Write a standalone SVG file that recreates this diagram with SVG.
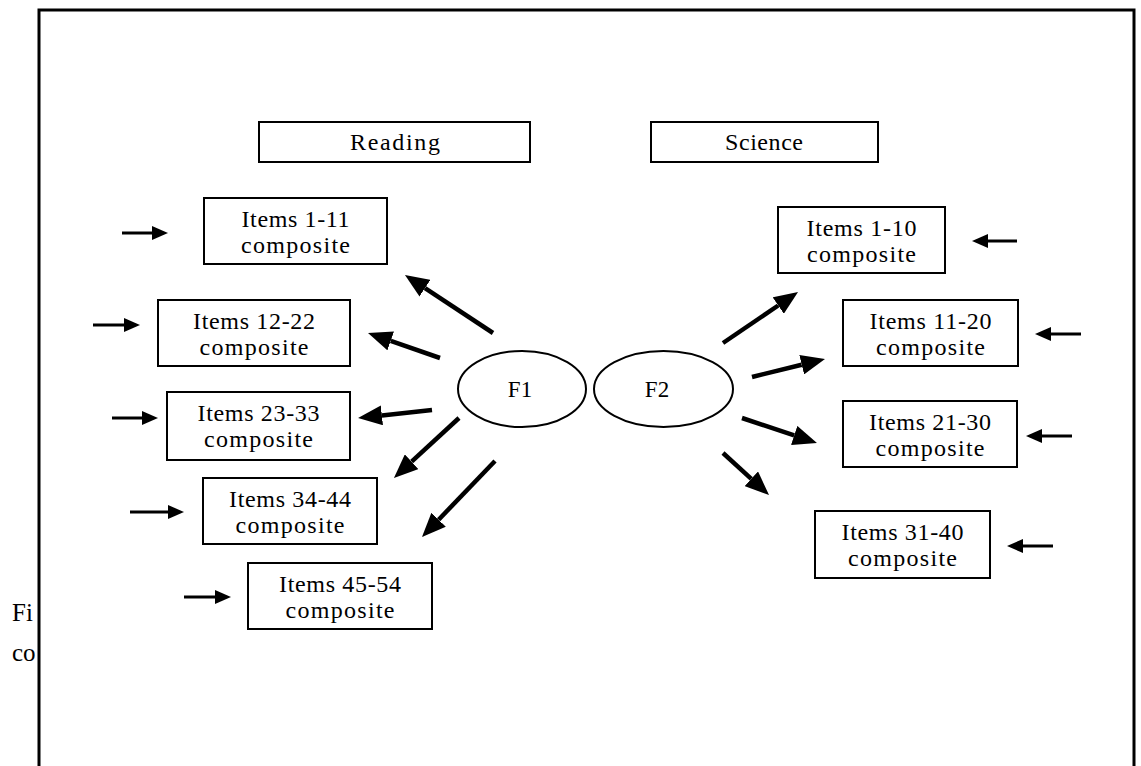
<svg xmlns="http://www.w3.org/2000/svg" width="1141" height="766" viewBox="0 0 1141 766">
<style>
text{font-family:"Liberation Serif","Times New Roman",serif;fill:#000}
.t{font-size:24px;text-anchor:middle}
.lbl{font-size:24px;text-anchor:middle}
.fx{font-size:23px;text-anchor:middle}
.edge{font-size:25px}
.box{fill:#fff;stroke:#000;stroke-width:2}
.ell{fill:#fff;stroke:#000;stroke-width:2}
.big{stroke:#000;stroke-width:4.5;fill:none;marker-end:url(#hb)}
.sm{stroke:#000;stroke-width:3;fill:none;marker-end:url(#hs)}
</style>
<defs>
<marker id="hb" markerUnits="userSpaceOnUse" markerWidth="24" markerHeight="20" refX="0" refY="10" orient="auto"><path d="M0,0 L24,10 L0,20 z" fill="#000"/></marker>
<marker id="hs" markerUnits="userSpaceOnUse" markerWidth="16" markerHeight="14" refX="0" refY="7" orient="auto"><path d="M0,0 L16,7 L0,14 z" fill="#000"/></marker>
</defs>
<rect width="1141" height="766" fill="#fff"/>
<text class="edge" x="12" y="621">Fi</text>
<text class="edge" x="12" y="661">co</text>
<path d="M39,770 V10 H1134 V770 z" fill="#fff" stroke="#000" stroke-width="3"/>
<g id="reading"><rect class="box" x="259" y="122" width="271" height="40"/><text class="lbl" x="395" y="150" textLength="90" lengthAdjust="spacing">Reading</text></g>
<g id="science"><rect class="box" x="651" y="122" width="227" height="40"/><text class="lbl" x="764" y="150" textLength="78" lengthAdjust="spacing">Science</text></g>
<g id="L1"><rect class="box" x="204" y="198" width="183" height="66"/><text class="t" x="295.5" y="227" textLength="108" lengthAdjust="spacing">Items 1-11</text><text class="t" x="295.5" y="253" textLength="109" lengthAdjust="spacing">composite</text></g>
<g id="L2"><rect class="box" x="158" y="300" width="192" height="66"/><text class="t" x="254" y="329" textLength="122" lengthAdjust="spacing">Items 12-22</text><text class="t" x="254" y="355" textLength="109" lengthAdjust="spacing">composite</text></g>
<g id="L3"><rect class="box" x="167" y="392" width="183" height="68"/><text class="t" x="258.5" y="421" textLength="122" lengthAdjust="spacing">Items 23-33</text><text class="t" x="258.5" y="447" textLength="109" lengthAdjust="spacing">composite</text></g>
<g id="L4"><rect class="box" x="203" y="478" width="174" height="66"/><text class="t" x="290" y="507" textLength="122" lengthAdjust="spacing">Items 34-44</text><text class="t" x="290" y="533" textLength="109" lengthAdjust="spacing">composite</text></g>
<g id="L5"><rect class="box" x="248" y="563" width="184" height="66"/><text class="t" x="340" y="592" textLength="122" lengthAdjust="spacing">Items 45-54</text><text class="t" x="340" y="618" textLength="109" lengthAdjust="spacing">composite</text></g>
<g id="R1"><rect class="box" x="778" y="207" width="167" height="66"/><text class="t" x="861.5" y="236" textLength="110" lengthAdjust="spacing">Items 1-10</text><text class="t" x="861.5" y="262" textLength="109" lengthAdjust="spacing">composite</text></g>
<g id="R2"><rect class="box" x="843" y="300" width="175" height="66"/><text class="t" x="930.5" y="329" textLength="122" lengthAdjust="spacing">Items 11-20</text><text class="t" x="930.5" y="355" textLength="109" lengthAdjust="spacing">composite</text></g>
<g id="R3"><rect class="box" x="843" y="401" width="174" height="66"/><text class="t" x="930" y="430" textLength="122" lengthAdjust="spacing">Items 21-30</text><text class="t" x="930" y="456" textLength="109" lengthAdjust="spacing">composite</text></g>
<g id="R4"><rect class="box" x="815" y="511" width="175" height="67"/><text class="t" x="902.5" y="540" textLength="122" lengthAdjust="spacing">Items 31-40</text><text class="t" x="902.5" y="566" textLength="109" lengthAdjust="spacing">composite</text></g>
<g id="F1"><ellipse class="ell" cx="522" cy="389" rx="64" ry="38"/><text class="fx" x="520" y="397">F1</text></g>
<g id="F2"><ellipse class="ell" cx="663.5" cy="389" rx="69.5" ry="38"/><text class="fx" x="657" y="397">F2</text></g>
<g id="connectors">
<line class="big" x1="493" y1="333" x2="425" y2="288.2"/>
<line class="big" x1="440" y1="358" x2="390.7" y2="340.9"/>
<line class="big" x1="432" y1="410" x2="381.9" y2="415.4"/>
<line class="big" x1="459" y1="418" x2="411.6" y2="461.7"/>
<line class="big" x1="495" y1="461" x2="438.6" y2="519.7"/>
<line class="big" x1="723" y1="343" x2="778.2" y2="305.5"/>
<line class="big" x1="752" y1="377" x2="801.7" y2="364.7"/>
<line class="big" x1="742" y1="418" x2="794.2" y2="435.4"/>
<line class="big" x1="723" y1="453" x2="751.3" y2="478.8"/>
<line class="sm" x1="122" y1="233" x2="152" y2="233"/>
<line class="sm" x1="93" y1="325" x2="124" y2="325"/>
<line class="sm" x1="112" y1="418" x2="142" y2="418"/>
<line class="sm" x1="130" y1="512" x2="168" y2="512"/>
<line class="sm" x1="184" y1="597" x2="215" y2="597"/>
<line class="sm" x1="1017" y1="241" x2="988" y2="241"/>
<line class="sm" x1="1081" y1="334" x2="1051" y2="334"/>
<line class="sm" x1="1072" y1="436" x2="1042" y2="436"/>
<line class="sm" x1="1053" y1="546" x2="1023" y2="546"/>
</g>
</svg>
